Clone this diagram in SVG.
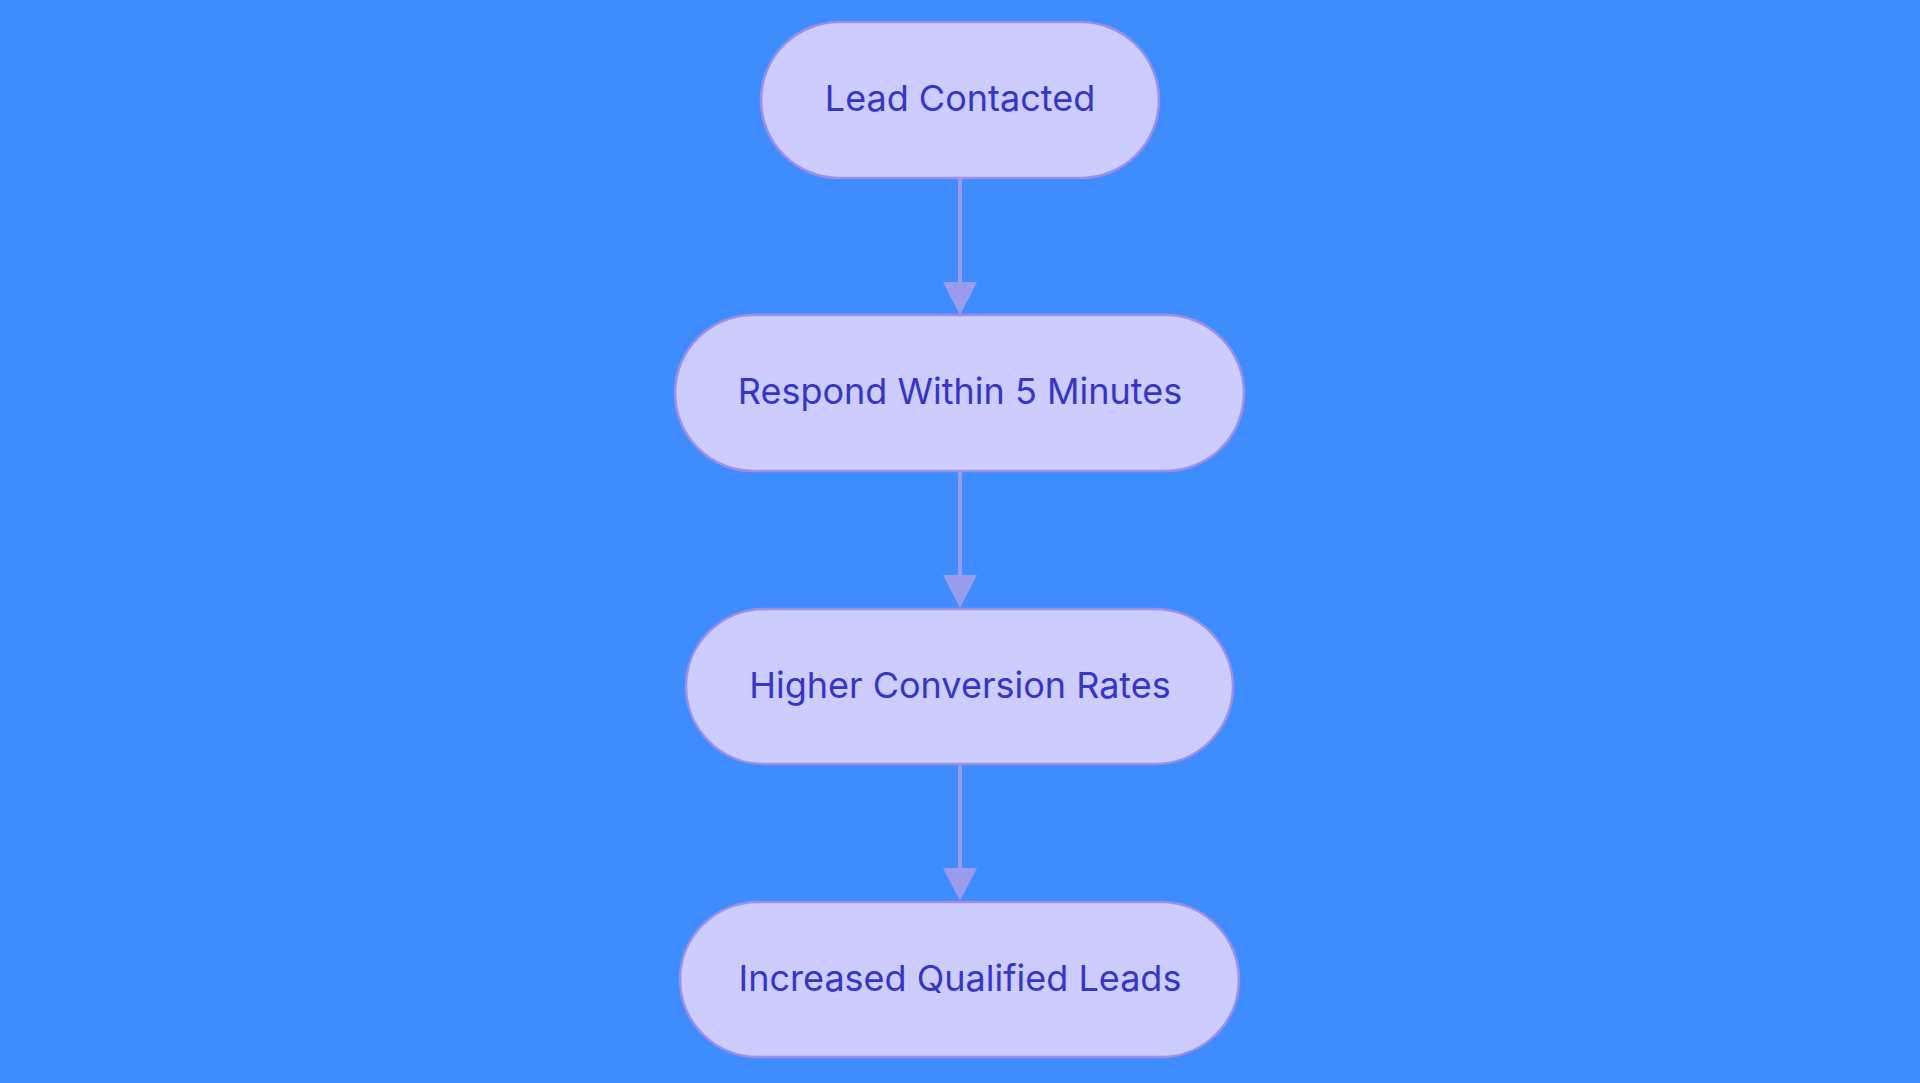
<svg xmlns="http://www.w3.org/2000/svg" width="1920" height="1083" viewBox="0 0 1920 1083">
<style>
.n{fill:#CCCCFF;stroke:#9B8FE8;stroke-width:2.5}
.t{font-family:Inter,"Liberation Sans",sans-serif;font-size:36px;fill:#3535C8;text-anchor:middle;dominant-baseline:central}
.e{stroke:#9B9BEE;stroke-width:4;fill:none}
.h{fill:#9B9BEE}
</style>
<rect width="1920" height="1083" fill="#3F8CFF"/>
<g id="connectors">
<line class="e" x1="960" y1="178" x2="960" y2="284"/><path class="h" d="M943 282L977 282L960 315Z"/>
<line class="e" x1="960" y1="470" x2="960" y2="577"/><path class="h" d="M943 575L977 575L960 608Z"/>
<line class="e" x1="960" y1="764" x2="960" y2="870"/><path class="h" d="M943 868L977 868L960 901Z"/>
</g>
<g id="n1"><rect class="n" x="761" y="22" width="398" height="156" rx="78"/><text class="t" x="960" y="98">Lead Contacted</text></g>
<g id="n2"><rect class="n" x="675" y="315" width="569" height="156" rx="78"/><text class="t" x="960" y="391">Respond Within 5 Minutes</text></g>
<g id="n3"><rect class="n" x="686" y="609" width="547" height="155" rx="78"/><text class="t" x="960" y="685">Higher Conversion Rates</text></g>
<g id="n4"><rect class="n" x="680" y="902" width="559" height="155" rx="78"/><text class="t" x="960" y="978">Increased Qualified Leads</text></g>
</svg>
